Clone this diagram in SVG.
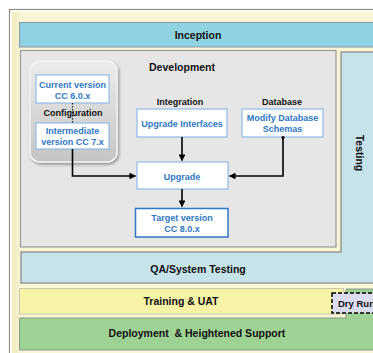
<svg xmlns="http://www.w3.org/2000/svg" width="373" height="353" viewBox="0 0 373 353">
<defs>
<style>
.t{font-family:"Liberation Sans",Arial,sans-serif;font-weight:bold;text-anchor:middle;fill:#111}
.b{font-family:"Liberation Sans",Arial,sans-serif;font-weight:bold;text-anchor:middle;fill:#2f78c4;font-size:9px}
.nd{fill:#fff;stroke:#8fbbe6;stroke-width:1.2}
.con{fill:none;stroke:#000;stroke-width:1.6}
</style>
<linearGradient id="cfg" x1="0" y1="0" x2="0" y2="1">
<stop offset="0" stop-color="#ececec"/>
<stop offset="1" stop-color="#c4c4c4"/>
</linearGradient>
<linearGradient id="frame" x1="0" y1="0" x2="1" y2="0">
<stop offset="0" stop-color="#e9e6b4"/>
<stop offset="0.03" stop-color="#f8f6d6"/>
<stop offset="1" stop-color="#f8f6d6"/>
</linearGradient>
<filter id="sh" x="-10%" y="-10%" width="130%" height="130%">
<feDropShadow dx="1.5" dy="2" stdDeviation="1.5" flood-color="#000" flood-opacity="0.35"/>
</filter>
<marker id="ah" viewBox="0 0 10 10" refX="9" refY="5" markerWidth="4.2" markerHeight="4.2" orient="auto" markerUnits="strokeWidth">
<path d="M0,0 L10,5 L0,10 Z" fill="#000"/>
</marker>
</defs>
<rect width="373" height="353" fill="#fff"/>
<g id="frame">
<rect x="9.5" y="9.5" width="380" height="360" fill="url(#frame)" stroke="#8a8a8a" stroke-width="1.2"/>
<path d="M11,11 H380 M11,11 V360" stroke="#fffef0" stroke-width="2" fill="none"/>
</g>
<g id="inception">
<rect x="19.5" y="22.5" width="370" height="24.5" fill="#8fd3e3" stroke="#8a9aa0" stroke-width="1"/>
<text class="t" x="198" y="38.5" font-size="10.5">Inception</text>
</g>
<g id="testing">
<path d="M341,52 H390 V283 H21 V252 H341 Z" fill="#c6e3ea" stroke="#999" stroke-width="1.5"/>
<text class="t" font-size="10.5" transform="translate(356,153) rotate(90)">Testing</text>
<text class="t" x="198" y="272.5" font-size="10.5">QA/System Testing</text>
</g>
<g id="development">
<rect x="20.5" y="50.5" width="315.5" height="196.5" fill="#e6e6e6" stroke="#9a9a9a" stroke-width="1.2"/>
<text class="t" x="182" y="71" font-size="10.5">Development</text>
</g>
<g id="configuration">
<rect x="30" y="61" width="87" height="101" rx="10" fill="url(#cfg)" stroke="#f4f4f4" stroke-width="1.5" filter="url(#sh)"/>
<text class="t" x="73" y="116" font-size="9">Configuration</text>
</g>
<g id="current">
<rect class="nd" x="36" y="75" width="73" height="28"/>
<text class="b" x="72.5" y="87.5">Current version</text>
<text class="b" x="72.5" y="98.5">CC 6.0.x</text>
</g>
<g id="intermediate">
<rect class="nd" x="36" y="123" width="73" height="26"/>
<text class="b" x="72.5" y="134">Intermediate</text>
<text class="b" x="72.5" y="145">version CC 7.x</text>
</g>
<g id="integration">
<text class="t" x="180" y="105" font-size="9">Integration</text>
<rect class="nd" x="137" y="109" width="90" height="28"/>
<text class="b" x="182" y="127">Upgrade Interfaces</text>
</g>
<g id="database">
<text class="t" x="282" y="105" font-size="9">Database</text>
<rect class="nd" x="242" y="109" width="81" height="28"/>
<text class="b" x="282.5" y="121">Modify Database</text>
<text class="b" x="282.5" y="132">Schemas</text>
</g>
<g id="upgrade">
<rect class="nd" x="137" y="162" width="91" height="27"/>
<text class="b" x="182" y="180">Upgrade</text>
</g>
<g id="target">
<rect x="135.5" y="208.5" width="92.5" height="28.5" fill="#fff" stroke="#2f78c4" stroke-width="1.5"/>
<text class="b" x="182" y="221">Target version</text>
<text class="b" x="182" y="232">CC 8.0.x</text>
</g>
<g id="training">
<rect x="19.5" y="288.5" width="324" height="25.5" fill="#f7f3a6" stroke="#c8c8b0" stroke-width="1"/>
<text class="t" x="181" y="305" font-size="10.5">Training &amp; UAT</text>
</g>
<g id="deployment">
<path d="M346,289 H390 V350 H19.5 V318 H346 Z" fill="#9ed294" stroke="#8a9a88" stroke-width="1"/>
<text class="t" x="197" y="336.5" font-size="10.5" xml:space="preserve">Deployment  &amp; Heightened Support</text>
</g>
<g id="dryrun">
<rect x="332" y="293" width="60" height="20" fill="#dcdcf0" stroke="#000" stroke-width="1.5" stroke-dasharray="4 2"/>
<text class="t" x="338" y="307" font-size="9.5" style="text-anchor:start">Dry Run</text>
</g>
<g id="connectors">
<line x1="72.5" y1="103" x2="72.5" y2="123" stroke="#222" stroke-width="1.3" stroke-dasharray="1.5 1.5"/>
<path class="con" d="M72.5,149 V176 H135.5" marker-end="url(#ah)"/>
<path class="con" d="M182,137 V160.5" marker-end="url(#ah)"/>
<path class="con" d="M283,137 V176 H229.5" marker-end="url(#ah)"/>
<circle cx="283" cy="137.5" r="1.6" fill="#000"/>
<path class="con" d="M182,189 V206.5" marker-end="url(#ah)"/>
</g>
</svg>
